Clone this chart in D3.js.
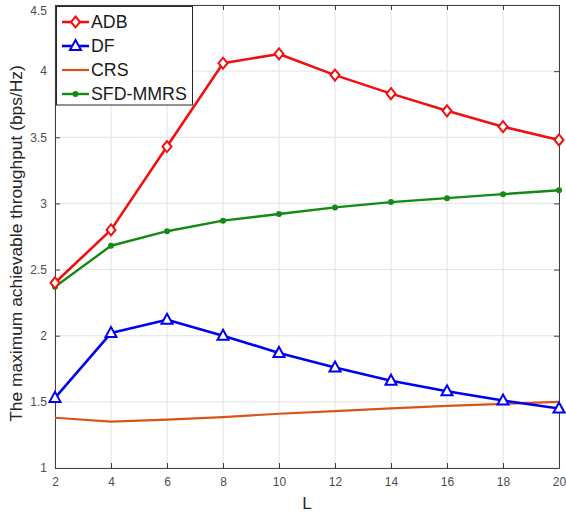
<!DOCTYPE html>
<html><head><meta charset="utf-8">
<script src="https://cdn.jsdelivr.net/npm/d3@7"></script>
<style>body{margin:0;background:#fff}svg{display:block;font-family:"Liberation Sans",Arial,sans-serif}</style>
</head><body><svg id="c" width="566" height="514"></svg>
<script>
const L = [2,4,6,8,10,12,14,16,18,20];
const ADB = [2.40,2.80,3.43,4.06,4.13,3.97,3.83,3.70,3.58,3.48];
const DF = [1.53,2.02,2.12,2.00,1.87,1.76,1.66,1.58,1.51,1.45];
const CRS = [1.38,1.35,1.365,1.385,1.41,1.43,1.45,1.47,1.485,1.50];
const SFD = [2.37,2.68,2.79,2.87,2.92,2.97,3.01,3.04,3.07,3.10];
const xTicks = [2,4,6,8,10,12,14,16,18,20];
const yTicks = [1,1.5,2,2.5,3,3.5,4,4.5];
const seriesNames = ["ADB","DF","CRS","SFD-MMRS"];

const svg = d3.select("#c");
const m = {l:55, r:559, t:5, b:468};
const x = d3.scaleLinear().domain([2,20]).range([m.l,m.r]);
const y = d3.scaleLinear().domain([1,4.5]).range([m.b,m.t]);

// grid
svg.append("g").selectAll("line").data(xTicks).join("line")
  .attr("x1",d=>x(d)).attr("x2",d=>x(d)).attr("y1",m.t).attr("y2",m.b)
  .attr("stroke","#e3e3e3").attr("stroke-width",1);
svg.append("g").selectAll("line").data(yTicks).join("line")
  .attr("y1",d=>y(d)).attr("y2",d=>y(d)).attr("x1",m.l).attr("x2",m.r)
  .attr("stroke","#e3e3e3").attr("stroke-width",1);

const axCol = "#404040";
const fmt = d=>d3.format("")(d);
const gb = svg.append("g").attr("transform",`translate(0,${m.b})`)
  .call(d3.axisBottom(x).tickValues(xTicks).tickSizeInner(-5).tickSizeOuter(0).tickPadding(9).tickFormat(fmt));
const gt = svg.append("g").attr("transform",`translate(0,${m.t})`)
  .call(d3.axisTop(x).tickValues(xTicks).tickSizeInner(-5).tickSizeOuter(0).tickFormat(""));
const gl = svg.append("g").attr("transform",`translate(${m.l},0)`)
  .call(d3.axisLeft(y).tickValues(yTicks).tickSizeInner(-5).tickSizeOuter(0).tickPadding(8).tickFormat(fmt));
const gr = svg.append("g").attr("transform",`translate(${m.r},0)`)
  .call(d3.axisRight(y).tickValues(yTicks).tickSizeInner(-5).tickSizeOuter(0).tickFormat(""));
[gb,gt,gl,gr].forEach(g=>{
  g.select(".domain").attr("stroke",axCol).attr("stroke-width",1);
  g.selectAll(".tick line").attr("stroke",axCol);
  g.selectAll("text").attr("fill","#4d4d4d").attr("font-size",12).attr("font-family","Liberation Sans, Arial, sans-serif");
});
gl.selectAll(".tick text").filter(d=>d===4.5).attr("dy","0.75em");

const line = d3.line().x((d,i)=>x(L[i])).y(d=>y(d));
const cfg = [
  {name:"CRS", data:CRS, color:"#D95319", w:2.2, marker:null},
  {name:"SFD-MMRS", data:SFD, color:"#138a13", w:2.4, marker:"dot"},
  {name:"DF", data:DF, color:"#0000F0", w:2.6, marker:"tri"},
  {name:"ADB", data:ADB, color:"#F01010", w:2.6, marker:"dia"},
];
function marker(g, type, color, cx, cy){
  if(type==="dia"){
    g.append("path").attr("d",`M${cx},${cy-5.5}L${cx+4.5},${cy}L${cx},${cy+5.5}L${cx-4.5},${cy}Z`)
      .attr("fill","#fff").attr("stroke",color).attr("stroke-width",2);
  } else if(type==="tri"){
    g.append("path").attr("d",`M${cx},${cy-6}L${cx+5.5},${cy+4}L${cx-5.5},${cy+4}Z`)
      .attr("fill","#fff").attr("stroke",color).attr("stroke-width",2);
  } else if(type==="dot"){
    g.append("circle").attr("cx",cx).attr("cy",cy).attr("r",3).attr("fill",color);
  }
}
cfg.forEach(s=>{
  const g = svg.append("g");
  g.append("path").datum(s.data).attr("d",line).attr("fill","none")
    .attr("stroke",s.color).attr("stroke-width",s.w).attr("stroke-linejoin","round");
  if(s.marker) s.data.forEach((v,i)=>marker(g,s.marker,s.color,x(L[i]),y(v)));
});

// legend
const lg = svg.append("g");
lg.append("rect").attr("x",56.5).attr("y",6.5).attr("width",136).attr("height",98.5)
  .attr("fill","#fff").attr("stroke","#262626").attr("stroke-width",1);
const order = ["ADB","DF","CRS","SFD-MMRS"];
order.forEach((n,i)=>{
  const s = cfg.find(c=>c.name===n);
  const cy = 22 + i*24;
  lg.append("line").attr("x1",62).attr("x2",89).attr("y1",cy).attr("y2",cy)
    .attr("stroke",s.color).attr("stroke-width",s.w);
  if(s.marker) marker(lg,s.marker,s.color,75.5,cy);
  lg.append("text").attr("x",91).attr("y",cy).attr("dy","0.36em")
    .attr("font-size",17.8).attr("fill","#1a1a1a").text(n);
});

// labels
svg.append("text").attr("x",307).attr("y",503).attr("dy","0.36em").attr("text-anchor","middle")
  .attr("font-size",17).attr("fill","#262626").text("L");
svg.append("text").attr("transform",`translate(16,${(m.t+m.b)/2+7}) rotate(-90)`)
  .attr("text-anchor","middle").attr("dy","0.36em").attr("font-size",17.4).attr("fill","#262626")
  .text("The maximum achievable throughput (bps/Hz)");
</script></body></html>
